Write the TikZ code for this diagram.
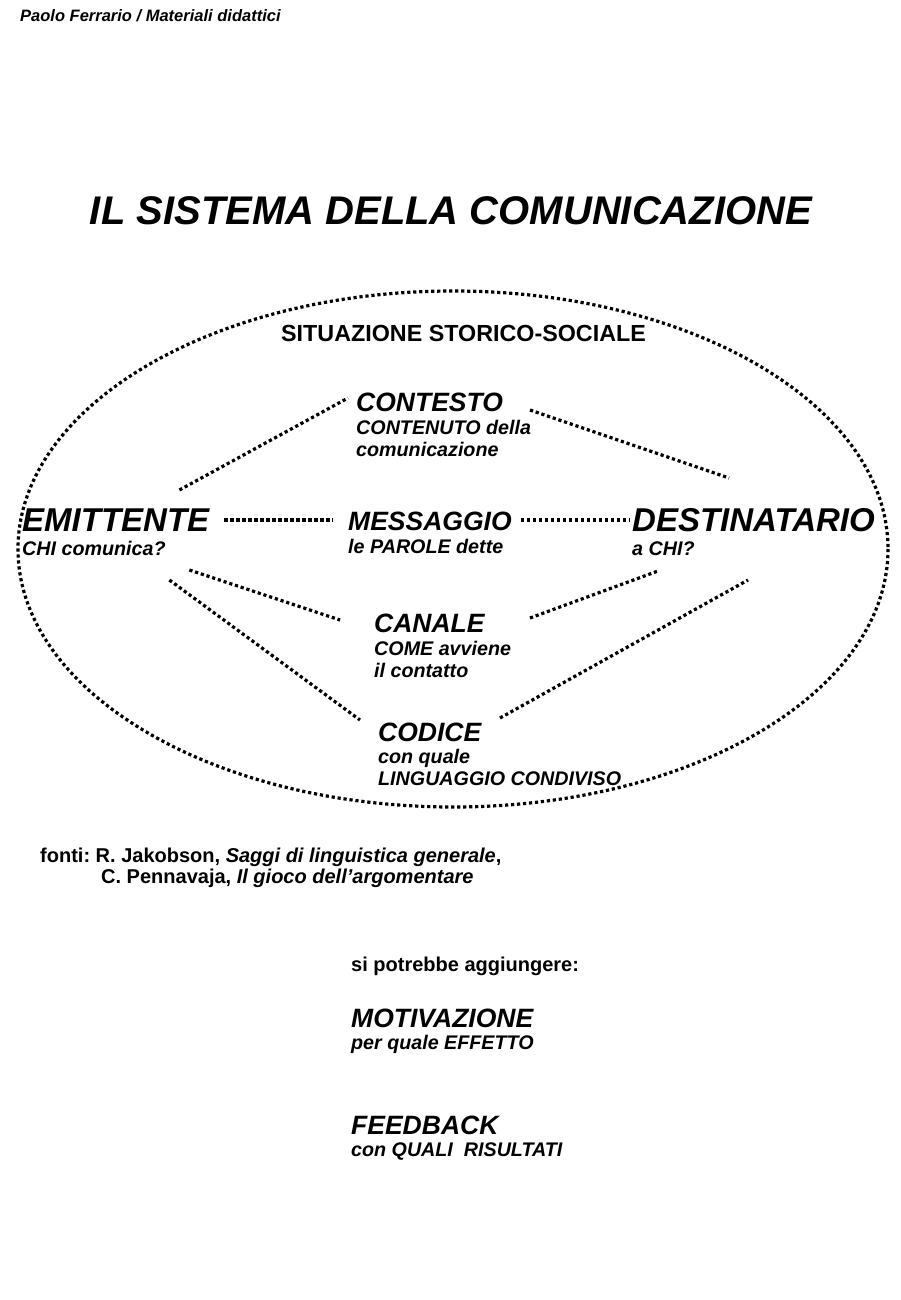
\documentclass[tikz,border=0pt]{standalone}
\usepackage{fontspec}
\setmainfont{Liberation Sans}
\usepackage{tikz}
\usetikzlibrary{positioning}
\frenchspacing
\tikzstyle{dots} = [line width=3.2pt, dash pattern=on 3.2pt off 2.8pt]
\tikzstyle{txt} = [inner sep=0pt, anchor=base west]
\tikzstyle{big} = [txt, font=\bfseries\itshape\fontsize{33}{36}\selectfont]
\tikzstyle{head} = [txt, font=\bfseries\itshape\fontsize{26.5}{30}\selectfont]
\tikzstyle{sub} = [txt, font=\bfseries\itshape\fontsize{19.7}{22}\selectfont]
\tikzstyle{plain} = [txt, font=\bfseries\fontsize{20}{23}\selectfont]

\begin{document}
\begin{tikzpicture}[x=1pt, y=-1pt]
  \useasboundingbox (0,0) rectangle (900,1300);

  \node[txt, font=\bfseries\itshape\fontsize{16.5}{19}\selectfont] (autore) at (20,22) {Paolo Ferrario / Materiali didattici};
  \node[inner sep=0pt, anchor=base, font=\bfseries\itshape\fontsize{40}{44}\selectfont] (titolo) at (451,224) {IL SISTEMA DELLA COMUNICAZIONE};

  % cornice
  \draw[dots] (453,549) ellipse [x radius=435, y radius=258];
  \node[txt, font=\bfseries\fontsize{23.3}{26}\selectfont] (situaz) at (281,341) {SITUAZIONE STORICO-SOCIALE};

  \node[head] (cont) at (356,411) {CONTESTO};
  \node[sub] (cont1) at (356,434) {CONTENUTO della};
  \node[sub] (cont2) at (356,456) {comunicazione};

  \node[big] (emit) at (22,531) {EMITTENTE};
  \node[sub] (emit1) at (22,555) {CHI comunica?};

  \node[head] (mess) at (348,530) {MESSAGGIO};
  \node[sub] (mess1) at (348,553) {le PAROLE dette};

  \node[big] (dest) at (632,531) {DESTINATARIO};
  \node[sub] (dest1) at (632,555) {a CHI?};

  \node[head] (can) at (374,632) {CANALE};
  \node[sub] (can1) at (374,655) {COME avviene};
  \node[sub] (can2) at (374,677) {il contatto};

  \node[head] (cod) at (378,741) {CODICE};
  \node[sub] (cod1) at (378,763) {con quale};
  \node[sub] (cod2) at (378,785) {LINGUAGGIO CONDIVISO};

  \draw[dots] ([shift={(-30,-41)}]emit.base east) -- ([shift={(-8,-13)}]cont.base west);
  \draw[dots] ([shift={(174,-1)}]cont.base west) -- ([shift={(97,-53)}]dest.base west);
  \draw[dots] ([shift={(15,-11)}]emit.base east) -- ([shift={(-15,-10)}]mess.base west);
  \draw[dots] ([shift={(173,-10)}]mess.base west) -- ([shift={(-2,-11)}]dest.base west);
  \draw[dots] ([shift={(-20,39)}]emit.base east) -- ([shift={(-34,-12)}]can.base west);
  \draw[dots] ([shift={(156,-14)}]can.base west) -- ([shift={(26,40)}]dest.base west);
  \draw[dots] ([shift={(-40,49)}]emit.base east) -- ([shift={(-18,-21)}]cod.base west);
  \draw[dots] ([shift={(122,-23)}]cod.base west) -- ([shift={(116,49)}]dest.base west);

  \node[plain] (fonti1) at (40,862) {fonti: R. Jakobson, \textit{Saggi di linguistica generale},};
  \node[plain] (fonti2) at (101,883) {C. Pennavaja, \textit{Il gioco dell’argomentare}};

  \node[plain] (agg) at (351,971) {si potrebbe aggiungere:};
  \node[head] (motiv) at (351,1027) {MOTIVAZIONE};
  \node[sub] (motiv1) at (351,1049) {per quale EFFETTO};
  \node[head] (feed) at (351,1134) {FEEDBACK};
  \node[sub] (feed1) at (351,1156) {con QUALI\ \ RISULTATI};
\end{tikzpicture}
\end{document}
